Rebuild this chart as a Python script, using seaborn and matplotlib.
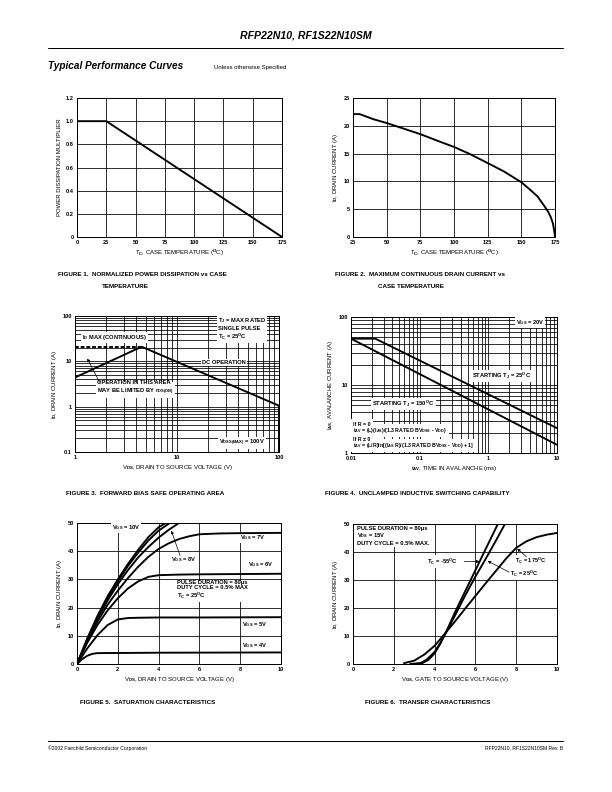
import matplotlib
matplotlib.use("Agg")
import matplotlib.pyplot as plt
import seaborn as sns
from matplotlib.lines import Line2D
from matplotlib.ticker import NullFormatter

# ---- data ----
# figure 1: power derating
f1_temp = [0, 25, 175]
f1_mult = [1.0, 1.0, 0.0]

# figure 2: max continuous drain current
f2_temp = [25, 30, 40, 50, 60, 75, 90, 100, 112, 125, 137, 150, 157, 162, 167, 170, 172, 173.5, 174.5, 175]
f2_id = [22.1, 22.1, 21.2, 20.5, 19.7, 18.5, 17.1, 16.2, 14.9, 13.3, 11.8, 9.85, 8.4, 7.3, 5.6, 4.5, 3.5, 2.4, 1.0, 0]

# figure 3: safe operating area
f3_idmax_v = [1, 4.5]
f3_idmax_i = [21, 21]
f3_soa_v = [1, 4.5, 100, 100]
f3_soa_i = [4.4, 21, 1.05, 0.1]

# figure 4: unclamped inductive switching
f4_t25 = [0.01, 0.0226, 10]
f4_i25 = [48, 48, 2.32]
f4_t150 = [0.01, 10]
f4_i150 = [48, 1.32]

# figure 5: saturation characteristics
f5_v10 = [0, 0.5, 1, 1.5, 2, 2.5, 3, 3.5, 4, 4.35]
f5_i10 = [0, 9, 17, 24, 30, 35.5, 40.5, 45, 48.5, 50]
f5_v9 = [0, 0.5, 1, 1.5, 2, 2.5, 3, 3.5, 4, 4.55]
f5_i9 = [0, 8.7, 16.5, 23.3, 29.3, 34.8, 39.5, 43.8, 47.3, 50]
f5_v8 = [0, 0.5, 1, 1.5, 2, 2.5, 3, 3.5, 4, 4.5, 5]
f5_i8 = [0, 8.4, 16, 22.5, 28.3, 33.3, 37.8, 41.5, 44.8, 47.6, 50]
f5_v7 = [0, 0.5, 1, 1.5, 2, 2.5, 3, 3.5, 4, 4.5, 5, 5.5, 6, 7, 8, 10]
f5_i7 = [0, 8, 15, 21, 26, 30.5, 34.5, 38, 40.8, 42.8, 44.3, 45.3, 46, 46.3, 46.4, 46.5]
f5_v6 = [0, 0.5, 1, 1.5, 2, 2.5, 3, 3.5, 4, 5, 6, 8, 10]
f5_i6 = [0, 7.5, 13.8, 19, 23.3, 26.8, 29.3, 30.9, 31.5, 31.7, 31.8, 31.9, 32]
f5_v5 = [0, 0.5, 1, 1.5, 2, 2.5, 3, 4, 6, 10]
f5_i5 = [0, 5.5, 10.2, 13.8, 15.8, 16.3, 16.4, 16.5, 16.5, 16.6]
f5_v4 = [0, 0.25, 0.5, 0.75, 1, 1.5, 2, 4, 10]
f5_i4 = [0, 1.7, 2.9, 3.6, 3.85, 3.9, 3.9, 4.0, 4.1]

# figure 6: transfer characteristics
f6_vm55 = [3.0, 3.4, 3.7, 4.0, 4.3, 4.6, 5.0, 5.5, 6.0, 6.5, 7.1]
f6_im55 = [0, 0.3, 1.5, 3.8, 7.5, 12.0, 18.5, 26, 33.5, 41, 50]
f6_v25 = [2.8, 3.3, 3.6, 4.0, 4.3, 4.6, 5.0, 5.5, 6.0, 6.5, 7.0, 7.45]
f6_i25 = [0, 0.3, 1.5, 4.3, 7.8, 11.8, 17.3, 24.5, 31.2, 37.5, 44, 50]
f6_v175 = [2.5, 3.0, 3.5, 4.0, 4.5, 5.0, 5.5, 6.0, 6.5, 7.0, 7.5, 8.0, 8.5, 9.0, 9.5, 10]
f6_i175 = [0.3, 1.2, 3.4, 6.5, 10.8, 15.2, 19.8, 24.3, 28.8, 33.2, 37.6, 41.5, 43.8, 45.3, 46.2, 46.8]

sns.set_theme(style="white")
plt.rcParams['font.family'] = ['Liberation Sans', 'DejaVu Sans']
plt.rcParams['font.weight'] = 'bold'
plt.rcParams['text.color'] = 'black'
plt.rcParams['axes.labelcolor'] = 'black'
plt.rcParams['xtick.color'] = 'black'
plt.rcParams['ytick.color'] = 'black'
plt.rcParams['mathtext.fontset'] = 'custom'
plt.rcParams['mathtext.rm'] = 'Liberation Sans:bold'
plt.rcParams['mathtext.it'] = 'Liberation Sans:bold'
plt.rcParams['mathtext.bf'] = 'Liberation Sans:bold'
plt.rcParams['mathtext.default'] = 'rm'

W, H = 612, 792
fig = plt.figure(figsize=(W / 72, H / 72), dpi=72)


def add_ax(x0, y0, x1, y1):
    return fig.add_axes([x0 / W, 1 - y1 / H, (x1 - x0) / W, (y1 - y0) / H])


def style(ax, xlabel, ylabel, log=False):
    ax.set_axisbelow(True)
    ax.grid(True, which='both' if log else 'major', color='black', lw=0.8)
    for s in ax.spines.values():
        s.set_color('black')
        s.set_linewidth(1.0)
    ax.tick_params(which='both', labelsize=5.6, length=0, pad=3, colors='black')
    ax.set_xlabel(xlabel, fontsize=6, color='black', labelpad=3)
    ax.set_ylabel(ylabel, fontsize=6, color='black', labelpad=4)


def line(ax, x, y, **kw):
    sns.lineplot(x=x, y=y, ax=ax, color='black', lw=1.9, sort=False,
                 estimator=None, zorder=4, **kw)


def label(ax, x, y, s, pad=1, color='black', **kw):
    kw.setdefault('fontsize', 5.8)
    ax.text(x, y, s, color=color, zorder=3,
            bbox=dict(fc='white', ec='none', pad=pad), **kw)


def arrow(ax, tip, tail):
    ax.annotate('', xy=tip, xytext=tail, zorder=6,
                arrowprops=dict(arrowstyle='-|>', lw=0.7, color='black',
                                mutation_scale=6, shrinkA=0, shrinkB=0))


deg = '$^O$C'

# ---- figure 1 ----
ax1 = add_ax(77, 98, 282, 237)
line(ax1, f1_temp, f1_mult)
ax1.set_xlim(0, 175)
ax1.set_ylim(0, 1.2)
ax1.set_xticks([0, 25, 50, 75, 100, 125, 150, 175])
ax1.set_yticks([0, 0.2, 0.4, 0.6, 0.8, 1.0, 1.2],
               labels=['0', '0.2', '0.4', '0.6', '0.8', '1.0', '1.2'])
style(ax1, 'T$_C$, CASE TEMPERATURE (' + deg + ')', 'POWER DISSIPATION MULTIPLIER')

# ---- figure 2 ----
ax2 = add_ax(353, 98, 555, 237)
line(ax2, f2_temp, f2_id)
ax2.set_xlim(25, 175)
ax2.set_ylim(0, 25)
ax2.set_xticks([25, 50, 75, 100, 125, 150, 175])
ax2.set_yticks([0, 5, 10, 15, 20, 25])
style(ax2, 'T$_C$, CASE TEMPERATURE (' + deg + ')', 'I$_D$, DRAIN CURRENT (A)')

# ---- figure 3 ----
ax3 = add_ax(75, 316, 279, 452)
ax3.set_xscale('log')
ax3.set_yscale('log')
line(ax3, f3_idmax_v, f3_idmax_i, linestyle=(0, (2, 1)))
line(ax3, f3_soa_v, f3_soa_i)
ax3.set_xlim(1, 100)
ax3.set_ylim(0.1, 100)
ax3.set_xticks([1, 10, 100], labels=['1', '10', '100'])
ax3.set_yticks([0.1, 1, 10, 100], labels=['0.1', '1', '10', '100'])
ax3.xaxis.set_minor_formatter(NullFormatter())
ax3.yaxis.set_minor_formatter(NullFormatter())
style(ax3, 'V$_{DS}$, DRAIN TO SOURCE VOLTAGE (V)', 'I$_D$, DRAIN CURRENT (A)', log=True)
label(ax3, 25, 98, 'T$_J$ = MAX RATED\nSINGLE PULSE\nT$_C$ = 25' + deg, va='top',
      linespacing=1.1)
label(ax3, 1.16, 33, 'I$_D$ MAX (CONTINUOUS)', va='center')
label(ax3, 17.5, 9.5, 'DC OPERATION', va='center')
label(ax3, 1.65, 2.5, 'OPERATION IN THIS AREA\nMAY BE LIMITED BY r$_{DS(ON)}$',
      va='center', linespacing=1.3)
label(ax3, 26, 0.16, 'V$_{DSS(MAX)}$ = 100V', va='center')
arrow(ax3, (1.32, 11.5), (1.75, 3.4))

# ---- figure 4 ----
ax4 = add_ax(351, 317, 557, 453)
ax4.set_xscale('log')
ax4.set_yscale('log')
line(ax4, f4_t25, f4_i25)
line(ax4, f4_t150, f4_i150)
ax4.set_xlim(0.01, 10)
ax4.set_ylim(1, 100)
ax4.set_xticks([0.01, 0.1, 1, 10], labels=['0.01', '0.1', '1', '10'])
ax4.set_yticks([1, 10, 100], labels=['1', '10', '100'])
ax4.xaxis.set_minor_formatter(NullFormatter())
ax4.yaxis.set_minor_formatter(NullFormatter())
style(ax4, 't$_{AV}$, TIME IN AVALANCHE (ms)', 'I$_{AS}$, AVALANCHE CURRENT (A)', log=True)
label(ax4, 2.5, 82, 'V$_{GS}$ = 20V', va='center')
label(ax4, 0.58, 13.5, 'STARTING T$_J$ = 25' + deg, va='center')
label(ax4, 0.0205, 5.2, 'STARTING T$_J$ = 150' + deg, va='center')
formula_lines = ['If R = 0',
                 't$_{AV}$ = (L)(I$_{AS}$)/(1.3 RATED BV$_{DSS}$ - V$_{DD}$)',
                 'If R \u2260 0',
                 't$_{AV}$ = (L/R)ln[(I$_{AS}$ R)/(1.3 RATED BV$_{DSS}$ - V$_{DD}$) + 1]']
formula_y = [2.65, 2.15, 1.62, 1.28]
# white backing boxes first, then the text on top so the box reads as one block
for fy, ft in zip(formula_y, formula_lines):
    label(ax4, 0.0108, fy, ft, va='center', fontsize=5.3, pad=2.2, color='none')
for fy, ft in zip(formula_y, formula_lines):
    ax4.text(0.0108, fy, ft, va='center', fontsize=5.3, color='black', zorder=3.5)

# ---- figure 5 ----
ax5 = add_ax(77, 523, 281, 664)
for vx, iy in [(f5_v10, f5_i10), (f5_v9, f5_i9), (f5_v8, f5_i8), (f5_v7, f5_i7),
               (f5_v6, f5_i6), (f5_v5, f5_i5), (f5_v4, f5_i4)]:
    line(ax5, vx, iy)
ax5.set_xlim(0, 10)
ax5.set_ylim(0, 50)
ax5.set_xticks([0, 2, 4, 6, 8, 10])
ax5.set_yticks([0, 10, 20, 30, 40, 50])
style(ax5, 'V$_{DS}$, DRAIN TO SOURCE VOLTAGE (V)', 'I$_D$, DRAIN CURRENT (A)')
label(ax5, 1.7, 48.3, 'V$_{GS}$ = 10V', va='center')
label(ax5, 4.6, 37, 'V$_{GS}$ = 8V', va='center')
arrow(ax5, (4.62, 47.3), (5.05, 38.5))
label(ax5, 8.0, 44.8, 'V$_{GS}$ = 7V', va='center')
label(ax5, 8.4, 35.3, 'V$_{GS}$ = 6V', va='center')
label(ax5, 4.9, 26, 'PULSE DURATION = 80\u03bcs\nDUTY CYCLE = 0.5% MAX\nT$_C$ = 25' + deg,
      va='center', linespacing=1.1)
label(ax5, 8.1, 13.9, 'V$_{GS}$ = 5V', va='center')
label(ax5, 8.1, 6.5, 'V$_{GS}$ = 4V', va='center')

# ---- figure 6 ----
ax6 = add_ax(353, 524, 557, 664)
line(ax6, f6_vm55, f6_im55)
line(ax6, f6_v25, f6_i25)
line(ax6, f6_v175, f6_i175)
ax6.set_xlim(0, 10)
ax6.set_ylim(0, 50)
ax6.set_xticks([0, 2, 4, 6, 8, 10])
ax6.set_yticks([0, 10, 20, 30, 40, 50])
style(ax6, 'V$_{GS}$, GATE TO SOURCE VOLTAGE (V)', 'I$_D$, DRAIN CURRENT (A)')
label(ax6, 0.22, 49.3, 'PULSE DURATION = 80\u03bcs\nV$_{DS}$ = 15V\nDUTY CYCLE = 0.5% MAX.',
      va='top', linespacing=1.1)
label(ax6, 3.65, 36.6, 'T$_C$ = -55' + deg, va='center')
arrow(ax6, (6.2, 36.6), (5.45, 36.6))
label(ax6, 7.95, 36.8, 'T$_C$ = 175' + deg, va='center', fontsize=5.6)
arrow(ax6, (8.05, 41.2), (8.5, 38.3))
label(ax6, 7.7, 32.3, 'T$_C$ = 25' + deg, va='center', fontsize=5.6)
arrow(ax6, (6.6, 36.8), (7.65, 32.8))

# ---- page furniture ----
fig.text(306 / W, 1 - 35 / H, 'RFP22N10, RF1S22N10SM', ha='center', va='center',
         fontsize=10.5, style='italic', weight='bold')
fig.add_artist(Line2D([48 / W, 563 / W], [1 - 48 / H] * 2, color='black', lw=1))
fig.text(48 / W, 1 - 66 / H, 'Typical Performance Curves', ha='left', va='center',
         fontsize=10, style='italic', weight='bold')
fig.text(214 / W, 1 - 67 / H, 'Unless otherwise Specified', ha='left', va='center',
         fontsize=6, weight='normal')

cap = dict(fontsize=6.3, weight='bold', va='center', ha='left')
fig.text(58 / W, 1 - 275 / H, 'FIGURE 1.  NORMALIZED POWER DISSIPATION vs CASE', **cap)
fig.text(102 / W, 1 - 286 / H, 'TEMPERATURE', **cap)
fig.text(335 / W, 1 - 275 / H, 'FIGURE 2.  MAXIMUM CONTINUOUS DRAIN CURRENT vs', **cap)
fig.text(378 / W, 1 - 286 / H, 'CASE TEMPERATURE', **cap)
fig.text(66 / W, 1 - 493 / H, 'FIGURE 3.  FORWARD BIAS SAFE OPERATING AREA', **cap)
fig.text(325 / W, 1 - 493 / H, 'FIGURE 4.  UNCLAMPED INDUCTIVE SWITCHING CAPABILITY', **cap)
fig.text(80 / W, 1 - 702 / H, 'FIGURE 5.  SATURATION CHARACTERISTICS', **cap)
fig.text(365 / W, 1 - 702 / H, 'FIGURE 6.  TRANSER CHARACTERISTICS', **cap)

fig.add_artist(Line2D([48 / W, 563 / W], [1 - 741 / H] * 2, color='black', lw=1))
fig.text(48 / W, 1 - 748 / H, '\u00a92002 Fairchild Semiconductor Corporation',
         ha='left', va='center', fontsize=5, weight='normal')
fig.text(563 / W, 1 - 748 / H, 'RFP22N10, RF1S22N10SM Rev. B',
         ha='right', va='center', fontsize=5, weight='normal')

fig.savefig('out.png', dpi=72, facecolor='white')
